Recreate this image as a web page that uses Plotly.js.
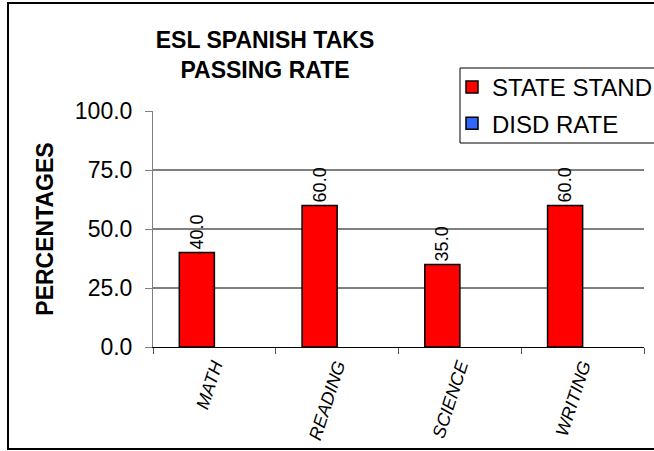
<!DOCTYPE html>
<html>
<head>
<meta charset="utf-8">
<script src="https://cdn.plot.ly/plotly-3.0.1.min.js"></script>
<style>
html,body{margin:0;padding:0;background:#fff;}
#chart{width:654px;height:451px;}
</style>
</head>
<body>
<div id="chart"></div>
<script>
// ---- data ----
var categories = ["MATH", "READING", "SCIENCE", "WRITING"];
var stateStandard = [40.0, 60.0, 35.0, 60.0];
var disdRate = [null, null, null, null];
var seriesNames = ["STATE STAND", "DISD RATE"];
var yTickVals = [0, 25, 50, 75, 100];
var gridVals = [25, 50, 75];

var FONT = "Liberation Sans, Arial, sans-serif";
var M = {l: 153, r: 10, t: 111, b: 104, autoexpand: false};
var W = 654, H = 451;
var pw = W - M.l - M.r, ph = H - M.t - M.b;
function px2x(p){ return (p - M.l) / pw; }
function py2y(p){ return (H - M.b - p) / ph; }

var traces = [
  {
    type: "bar", name: seriesNames[0], x: categories, y: stateStandard,
    legendgroup: "g1",
    marker: {color: "#FF0000", line: {color: "#000000", width: 1.5}},
    texttemplate: "%{y:.1f}", textposition: "outside", textangle: -90,
    constraintext: "none", cliponaxis: false,
    outsidetextfont: {family: FONT, size: 18, color: "#000"},
    hoverinfo: "skip"
  },
  {
    type: "bar", name: seriesNames[1], x: categories, y: disdRate,
    legendgroup: "g2",
    marker: {color: "#3366FF", line: {color: "#000000", width: 1.5}},
    hoverinfo: "skip"
  }
];

var shapes = gridVals.map(function(v){
  return {type: "line", xref: "paper", yref: "y", x0: 0, x1: 1, y0: v, y1: v,
          line: {color: "#000", width: 1}, layer: "below"};
});
// legend frame
shapes.push({type: "rect", xref: "paper", yref: "paper",
  x0: px2x(460), x1: px2x(680), y0: py2y(143), y1: py2y(68),
  line: {color: "#000", width: 1}, fillcolor: "#fff", layer: "above"});
// outer chart border (left, top, bottom; right edge clipped)
shapes.push({type: "rect", xref: "paper", yref: "paper",
  x0: px2x(8), x1: px2x(670), y0: py2y(449), y1: py2y(3),
  line: {color: "#000", width: 2}, fillcolor: "rgba(0,0,0,0)", layer: "above"});

var layout = {
  width: W, height: H,
  margin: M,
  paper_bgcolor: "#fff", plot_bgcolor: "#fff",
  font: {family: FONT, color: "#000"},
  barmode: "group", bargap: 0.4286, bargroupgap: 0,
  showlegend: true,
  title: {
    text: "ESL SPANISH TAKS<br>PASSING RATE",
    font: {family: FONT, size: 23, weight: 700, color: "#000"},
    x: 265 / W, xref: "container", xanchor: "center",
    y: 1 - 48 / H, yref: "container", yanchor: "top"
  },
  legend: {
    xref: "container", yref: "container",
    x: 452 / W, xanchor: "left", y: 1 - 65 / H, yanchor: "top",
    bgcolor: "rgba(0,0,0,0)", borderwidth: 0,
    traceorder: "grouped", tracegroupgap: 2,
    font: {family: FONT, size: 24, color: "#000"},
    itemwidth: 30
  },
  xaxis: {
    type: "category",
    showline: true, linecolor: "#000", linewidth: 1,
    ticks: "outside", tickson: "boundaries", ticklen: 6, tickcolor: "#555",
    tickangle: -72,
    tickfont: {family: FONT, size: 18, style: "italic", color: "#000"},
    showgrid: false, zeroline: false
  },
  yaxis: {
    range: [0, 100], tickvals: yTickVals, tickformat: ".1f",
    showline: true, linecolor: "#808080", linewidth: 1,
    ticks: "outside", ticklen: 7, tickcolor: "#808080",
    ticklabelstandoff: 8,
    tickfont: {family: FONT, size: 23, color: "#000"},
    showgrid: false, zeroline: false,
    title: {text: "PERCENTAGES", standoff: 14,
      font: {family: FONT, size: 23, weight: 700, color: "#000"}}
  },
  shapes: shapes
};

Plotly.newPlot("chart", traces, layout, {displayModeBar: false, staticPlot: true});
</script>
</body>
</html>
